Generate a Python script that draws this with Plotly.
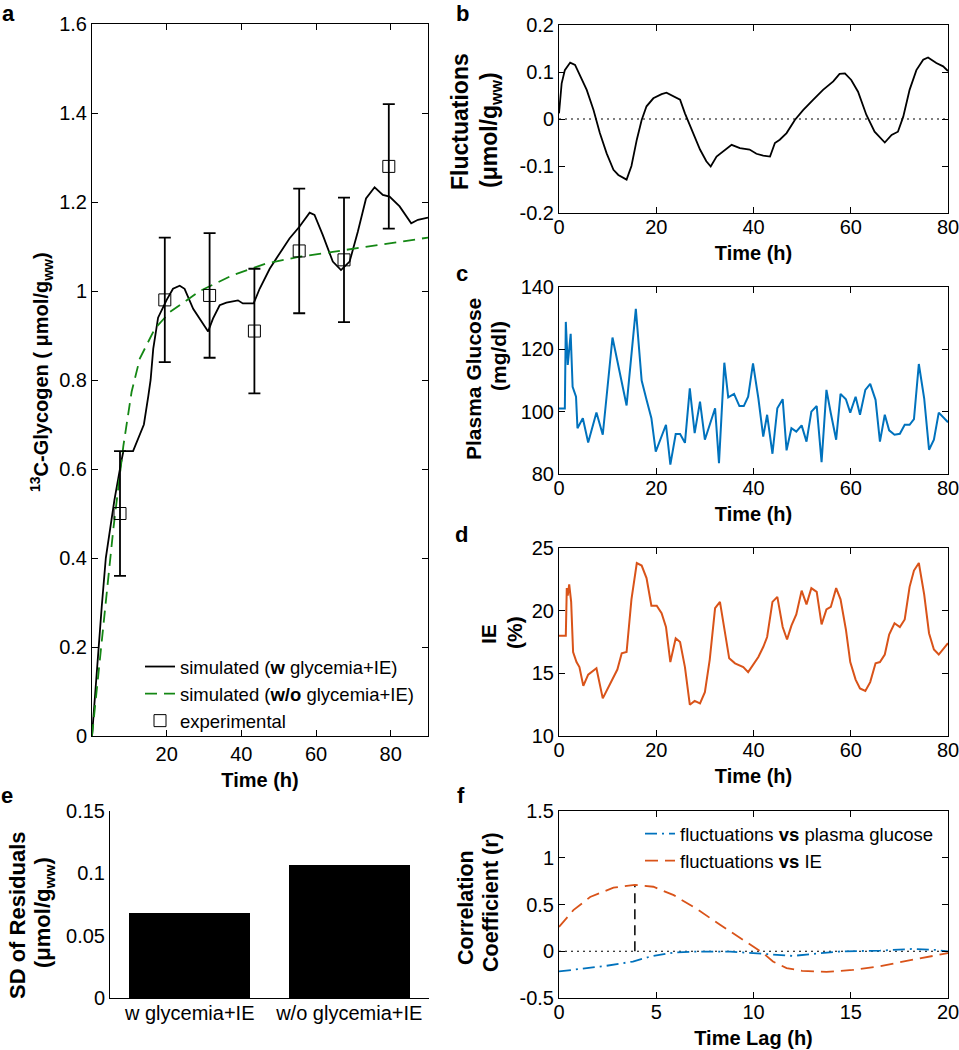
import plotly.graph_objects as go

# ---------------- data ----------------
# panel a
sim_w_t = [0, 1.0, 1.7, 2.6, 3.7, 6.0, 7.8, 8.4, 11.0, 13.9, 15.1, 15.7, 16.4, 17.7, 20.0, 21.7, 23.5, 24.8,
           27.1, 29.8, 31.1, 32.4, 34.2, 36.0, 39.1, 40.4, 43.3, 44.9, 47.6, 50.3, 52.9, 55.6, 58.3, 59.6,
           61.8, 64.5, 66.7, 69.0, 71.2, 73.4, 75.7, 77.9, 79.7, 82.4, 85.5, 87.3, 90.0]
sim_w_y = [0, 0.12, 0.20, 0.29, 0.40, 0.53, 0.615, 0.64, 0.64, 0.70, 0.765, 0.80, 0.87, 0.94, 0.98, 1.005,
           1.012, 1.005, 0.96, 0.927, 0.909, 0.938, 0.968, 0.974, 0.979, 0.972, 0.972, 1.005, 1.05, 1.085,
           1.118, 1.145, 1.176, 1.171, 1.126, 1.066, 1.047, 1.066, 1.133, 1.208, 1.233, 1.216, 1.212, 1.19,
           1.152, 1.16, 1.165]
sim_wo_t = [0, 0.8, 2.1, 3.9, 5.7, 7.0, 8.4, 10.6, 12.8, 16.8, 20.9, 28.9, 37.8, 46.7, 55.6, 64.5, 73.4, 82.4, 90]
sim_wo_y = [0, 0.066, 0.164, 0.314, 0.464, 0.555, 0.652, 0.773, 0.848, 0.915, 0.953, 1.0, 1.036, 1.062,
            1.077, 1.088, 1.099, 1.109, 1.12]
exp_t = [7.5, 19.5, 31.5, 43.5, 55.5, 67.5, 79.5]
exp_y = [0.50, 0.98, 0.99, 0.91, 1.09, 1.07, 1.28]
exp_err = [0.14, 0.14, 0.14, 0.14, 0.14, 0.14, 0.14]

# panel b
fluct_t = [0, 0.55, 1.2, 2.3, 3.3, 4.3, 5.7, 7.1, 8.4, 9.8, 11.2, 12.2, 13.2, 13.9, 14.9, 16.0, 17.0, 18.0,
           19.4, 21.1, 22.1, 23.5, 24.9, 25.9, 27.6, 29.0, 30.3, 31.2, 32.4, 33.8, 35.5, 37.2, 39.2, 40.6,
           42.0, 43.4, 44.4, 45.4, 46.8, 48.5, 50.2, 52.3, 54.3, 56.4, 57.7, 58.8, 60.1, 61.5, 63.2, 64.9,
           66.6, 67.0, 68.4, 69.7, 70.8, 72.1, 73.5, 74.9, 75.9, 77.6, 79.0, 80.0]
fluct_y = [0.012, 0.076, 0.104, 0.12, 0.115, 0.094, 0.062, 0.019, -0.03, -0.073, -0.108, -0.119, -0.124,
           -0.129, -0.10, -0.044, -0.002, 0.027, 0.044, 0.053, 0.056, 0.048, 0.041, 0.012, -0.03, -0.065,
           -0.09, -0.101, -0.08, -0.069, -0.055, -0.062, -0.065, -0.074, -0.078, -0.08, -0.051, -0.044,
           -0.03, -0.002, 0.019, 0.041, 0.062, 0.08, 0.096, 0.097, 0.083, 0.058, 0.009, -0.027, -0.044,
           -0.05, -0.034, -0.027, 0.005, 0.062, 0.104, 0.126, 0.131, 0.119, 0.112, 0.102]

# panel c
gluc_t = [0, 1.2, 1.4, 1.8, 2.4, 2.8, 3.5, 3.8, 4.9, 6.0, 7.7, 9.0, 11.0, 13.9, 15.8, 17.0, 18.0, 19.0, 19.9,
          22.0, 22.9, 24.0, 24.9, 25.9, 26.9, 27.9, 29.0, 30.0, 32.1, 32.9, 34.0, 34.8, 36.0, 37.1, 38.0,
          38.9, 39.9, 41.0, 42.0, 42.8, 43.9, 44.9, 46.0, 46.8, 47.8, 48.8, 49.9, 50.9, 51.9, 53.0, 54.0,
          55.0, 55.9, 57.0, 57.9, 59.0, 59.9, 61.0, 61.9, 63.0, 64.0, 65.1, 66.0, 67.0, 67.9, 69.0, 70.1,
          71.1, 72.1, 73.0, 74.0, 75.1, 76.1, 77.1, 78.1, 80.0]
gluc_y = [101, 101, 128.8, 115, 125, 108, 104.8, 94.7, 97.9, 90.1, 99.7, 92.6, 123.8, 102, 133, 110, 103.8,
          97.9, 87.2, 95.8, 83, 92.8, 92.8, 90, 107.5, 93.1, 103.2, 91, 101.1, 83.5, 115.7, 104.6, 105.7,
          101.8, 101.8, 104.8, 115.5, 104.3, 92, 99, 86.5, 101.1, 104, 87.6, 94.7, 93.6, 95.6, 90.4, 100,
          101.8, 83.8, 107, 99.5, 91, 105.7, 104, 99.7, 104.8, 99, 107, 108.9, 103.8, 90.4, 99, 94, 92.6,
          92.9, 95.8, 95.8, 97.6, 115.3, 104.3, 87.8, 91, 99.7, 96.6]

# panel d
ie_t = [0, 1.4, 1.6, 1.8, 2.1, 2.5, 2.9, 3.6, 4.2, 5.0, 6.0, 7.7, 9.0, 9.9, 12.0, 12.9, 13.9, 14.9, 16.0,
        17.0, 18.0, 19.0, 20.1, 21.1, 22.0, 22.9, 24.0, 24.9, 25.9, 26.9, 27.9, 29.0, 30.0, 31.0, 32.1, 33.1,
        34.0, 35.0, 36.2, 37.9, 38.9, 40.1, 41.0, 42.0, 42.8, 43.9, 44.9, 46.0, 46.9, 47.8, 48.8, 49.9, 50.9,
        51.9, 53.0, 54.0, 55.0, 55.9, 57.0, 57.9, 59.0, 59.9, 61.0, 61.9, 63.0, 64.0, 65.1, 66.0, 67.0, 67.9,
        69.0, 70.1, 71.1, 72.1, 73.0, 74.0, 75.1, 76.1, 77.1, 78.1, 80.0]
ie_y = [18.0, 18.0, 21.8, 21.2, 22.1, 20.7, 16.7, 15.9, 15.5, 14.0, 14.9, 15.4, 13.0, 13.7, 15.3, 16.6, 16.7,
        20.9, 23.8, 23.6, 22.6, 20.4, 20.4, 19.8, 18.7, 15.9, 17.8, 17.5, 15.5, 12.5, 12.8, 12.6, 13.5, 16.1,
        20.2, 20.7, 18.5, 16.2, 15.8, 15.5, 15.1, 15.8, 16.3, 17.1, 17.9, 20.7, 21.1, 18.7, 17.7, 18.8, 19.7,
        21.6, 20.5, 21.8, 21.5, 18.9, 20.1, 20.3, 21.8, 20.9, 18.5, 15.9, 14.5, 13.8, 13.6, 14.3, 15.8, 15.9,
        16.5, 18.1, 19.0, 18.7, 19.3, 21.9, 23.2, 23.8, 21.3, 18.2, 16.9, 16.5, 17.4]

# panel e
sd_labels = ["w glycemia+IE", "w/o glycemia+IE"]
sd_values = [0.068, 0.107]

# panel f
lag_ie_t = [0, 0.74, 1.6, 2.8, 3.9, 4.85, 5.9, 7.1, 8.3, 9.3, 10.0, 10.5, 11.0, 11.7, 12.5, 13.75, 15.1,
            16.5, 18.2, 20]
lag_ie_r = [0.26, 0.44, 0.58, 0.68, 0.71, 0.69, 0.60, 0.45, 0.28, 0.14, 0.05, -0.02, -0.11, -0.18, -0.21,
            -0.22, -0.20, -0.16, -0.09, -0.02]
lag_gl_t = [0, 1.1, 2.45, 3.8, 4.7, 5.9, 7.1, 8.8, 10.0, 11.0, 12.0, 13.1, 14.4, 16.5, 18.2, 19.4, 20]
lag_gl_r = [-0.216, -0.19, -0.155, -0.11, -0.056, -0.014, -0.003, -0.003, -0.02, -0.04, -0.05, -0.028,
            -0.003, 0.007, 0.025, 0.014, -0.003]
peak_lag = [3.9, 3.9]
peak_r = [0, 0.70]

# tick labels
ticks_b = [-0.2, -0.1, 0, 0.1, 0.2]
ticks_b_txt = ["-0.2", "-0.1", "0", "0.1", "0.2"]
ticks_f = [-0.5, 0, 0.5, 1, 1.5]
ticks_f_txt = ["-0.5", "0", "0.5", "1", "1.5"]

# y-axis title texts (one entry per printed line)
ytitle_texts = [
    "<b><sup>13</sup>C-Glycogen ( μmol/g<sub>ww</sub>)</b>",
    "<b>Fluctuations</b>", "<b>(μmol/g<sub>ww</sub>)</b>",
    "<b>Plasma Glucose</b>", "<b>(mg/dl)</b>",
    "<b>IE</b>", "<b>(%)</b>",
    "<b>SD of Residuals</b>", "<b>(μmol/g<sub>ww</sub>)</b>",
    "<b>Correlation</b>", "<b>Coefficient (r)</b>",
]
panel_letters = ["a", "b", "c", "d", "e", "f"]

# ---------------- styling ----------------
W, H = 959, 1050
FONT = "Liberation Sans, Arial, Helvetica, sans-serif"
BLUE = "rgb(0,114,189)"
ORANGE = "rgb(217,83,25)"
GREEN = "rgb(20,135,20)"

# placement of each y-title line: (centre x px, centre y px, font size)
ytitle_place = [
    (41, 372, 20),
    (460, 122, 23),
    (490, 130, 23),
    (474, 379, 21), (498, 356, 21),
    (488, 634, 21), (514, 633, 21),
    (17, 916, 22), (44, 913, 22),
    (466, 908, 21.5), (491, 902, 21.5),
]
letter_place = [(8, 13), (462, 13), (462, 273), (461, 534), (7, 795), (461, 795)]


def dom_x(p0, p1):
    return [p0 / W, p1 / W]


def dom_y(p0, p1):
    return [1 - p1 / H, 1 - p0 / H]


def base_axis(**kw):
    d = dict(showline=True, linecolor="black", linewidth=1, showgrid=False, zeroline=False,
             automargin=False, ticklabeloverflow="allow",
             tickfont=dict(size=20, color="black", family=FONT))
    d.update(kw)
    return d


def box_axis(**kw):
    d = base_axis(mirror="ticks", ticks="inside", ticklen=6, tickcolor="black", tickwidth=1)
    d.update(kw)
    return d


def title(text, standoff):
    return dict(text=text, standoff=standoff, font=dict(size=20, color="black", family=FONT))


fig = go.Figure()

# panel a
fig.add_trace(go.Scatter(x=sim_w_t, y=sim_w_y, mode="lines", line=dict(color="black", width=1.8),
                         name="simulated (<b>w</b> glycemia+IE)", xaxis="x", yaxis="y", legend="legend"))
fig.add_trace(go.Scatter(x=sim_wo_t, y=sim_wo_y, mode="lines", line=dict(color=GREEN, width=1.8, dash="12px,7px"),
                         name="simulated (<b>w/o</b> glycemia+IE)", xaxis="x", yaxis="y", legend="legend"))
fig.add_trace(go.Scatter(x=exp_t, y=exp_y, mode="markers",
                         marker=dict(symbol="square-open", size=12, color="black", line=dict(width=1)),
                         error_y=dict(type="data", array=exp_err, color="black", thickness=1.8, width=6),
                         name="experimental", xaxis="x", yaxis="y", legend="legend"))

# panel b
fig.add_trace(go.Scatter(x=[0, 80], y=[0, 0], mode="lines", line=dict(color="black", width=1.2, dash="2px,4px"),
                         showlegend=False, xaxis="x2", yaxis="y2"))
fig.add_trace(go.Scatter(x=fluct_t, y=fluct_y, mode="lines", line=dict(color="black", width=1.8),
                         showlegend=False, xaxis="x2", yaxis="y2"))

# panel c
fig.add_trace(go.Scatter(x=gluc_t, y=gluc_y, mode="lines", line=dict(color=BLUE, width=2),
                         showlegend=False, xaxis="x3", yaxis="y3"))

# panel d
fig.add_trace(go.Scatter(x=ie_t, y=ie_y, mode="lines", line=dict(color=ORANGE, width=2),
                         showlegend=False, xaxis="x4", yaxis="y4"))

# panel e
fig.add_trace(go.Bar(x=[1, 2], y=sd_values, marker=dict(color="black", line=dict(width=0)), width=0.76,
                     showlegend=False, xaxis="x5", yaxis="y5"))

# panel f
fig.add_trace(go.Scatter(x=[0, 20], y=[0, 0], mode="lines", line=dict(color="black", width=1.2, dash="2px,4px"),
                         showlegend=False, xaxis="x6", yaxis="y6"))
fig.add_trace(go.Scatter(x=peak_lag, y=peak_r, mode="lines", line=dict(color="black", width=1.5, dash="10px,6px"),
                         showlegend=False, xaxis="x6", yaxis="y6"))
fig.add_trace(go.Scatter(x=lag_gl_t, y=lag_gl_r, mode="lines",
                         line=dict(color=BLUE, width=1.8, dash="12px,5px,2px,5px"),
                         name="fluctuations <b>vs</b> plasma glucose", xaxis="x6", yaxis="y6", legend="legend2"))
fig.add_trace(go.Scatter(x=lag_ie_t, y=lag_ie_r, mode="lines",
                         line=dict(color=ORANGE, width=1.8, dash="13px,7px"),
                         name="fluctuations <b>vs</b> IE", xaxis="x6", yaxis="y6", legend="legend2"))

RX = dom_x(559, 948)
layout = dict(
    template="none",
    width=W, height=H, margin=dict(l=0, r=0, t=0, b=0, autoexpand=False),
    paper_bgcolor="white", plot_bgcolor="white",
    font=dict(family=FONT, color="black", size=18),
    # a
    xaxis=box_axis(domain=dom_x(92, 428), anchor="y", range=[0, 90], tickvals=[20, 40, 60, 80],
                   ticklabelstandoff=0, title=title("<b>Time (h)</b>", 8)),
    yaxis=box_axis(domain=dom_y(24, 736), anchor="x", range=[0, 1.6], tickvals=[0, 0.2, 0.4, 0.6, 0.8, 1, 1.2, 1.4, 1.6]),
    # b
    xaxis2=box_axis(domain=RX, anchor="y2", range=[0, 80], tickvals=[0, 20, 40, 60, 80],
                    ticklabelstandoff=-4, title=title("<b>Time (h)</b>", 8)),
    yaxis2=box_axis(domain=dom_y(25, 213), anchor="x2", range=[-0.2, 0.2], tickvals=ticks_b, ticktext=ticks_b_txt),
    # c
    xaxis3=box_axis(domain=RX, anchor="y3", range=[0, 80], tickvals=[0, 20, 40, 60, 80],
                    ticklabelstandoff=-4, title=title("<b>Time (h)</b>", 8)),
    yaxis3=box_axis(domain=dom_y(287, 474), anchor="x3", range=[80, 140], tickvals=[80, 100, 120, 140]),
    # d
    xaxis4=box_axis(domain=RX, anchor="y4", range=[0, 80], tickvals=[0, 20, 40, 60, 80],
                    ticklabelstandoff=-4, title=title("<b>Time (h)</b>", 8)),
    yaxis4=box_axis(domain=dom_y(548, 736), anchor="x4", range=[10, 25], tickvals=[10, 15, 20, 25]),
    # e
    xaxis5=base_axis(domain=dom_x(110, 429), anchor="y5", range=[0.5, 2.5], tickvals=[1, 2], ticktext=sd_labels,
                     ticks="", ticklabelstandoff=-3),
    yaxis5=base_axis(domain=dom_y(811, 998), anchor="x5", range=[0, 0.15], tickvals=[0, 0.05, 0.1, 0.15],
                     ticks=""),
    # f
    xaxis6=box_axis(domain=RX, anchor="y6", range=[0, 20], tickvals=[0, 5, 10, 15, 20],
                    ticklabelstandoff=-4, title=title("<b>Time Lag (h)</b>", 8)),
    yaxis6=box_axis(domain=dom_y(811, 998), anchor="x6", range=[-0.5, 1.5], tickvals=ticks_f, ticktext=ticks_f_txt),
    legend=dict(x=140 / W, y=1 - 648 / H, xanchor="left", yanchor="top", bgcolor="rgba(0,0,0,0)",
                font=dict(size=18.5, color="black", family=FONT), borderwidth=0),
    legend2=dict(x=640 / W, y=1 - 815 / H, xanchor="left", yanchor="top", bgcolor="rgba(0,0,0,0)",
                 font=dict(size=18.5, color="black", family=FONT), borderwidth=0),
    bargap=0,
)

anns = [
    dict(text="<b>%s</b>" % s, x=px / W, y=1 - py / H, xref="paper", yref="paper", xanchor="center",
         yanchor="middle", showarrow=False, font=dict(size=22, color="black", family=FONT))
    for s, (px, py) in zip(panel_letters, letter_place)
]
anns += [
    dict(text=t, x=px / W, y=1 - py / H, xref="paper", yref="paper", xanchor="center", yanchor="middle",
         textangle=-90, showarrow=False, font=dict(size=fs, color="black", family=FONT))
    for t, (px, py, fs) in zip(ytitle_texts, ytitle_place)
]
layout["annotations"] = anns

fig.update_layout(**layout)
fig.write_html("out.html", config={"displayModeBar": False},
               post_script="document.body.style.margin='0px';")
